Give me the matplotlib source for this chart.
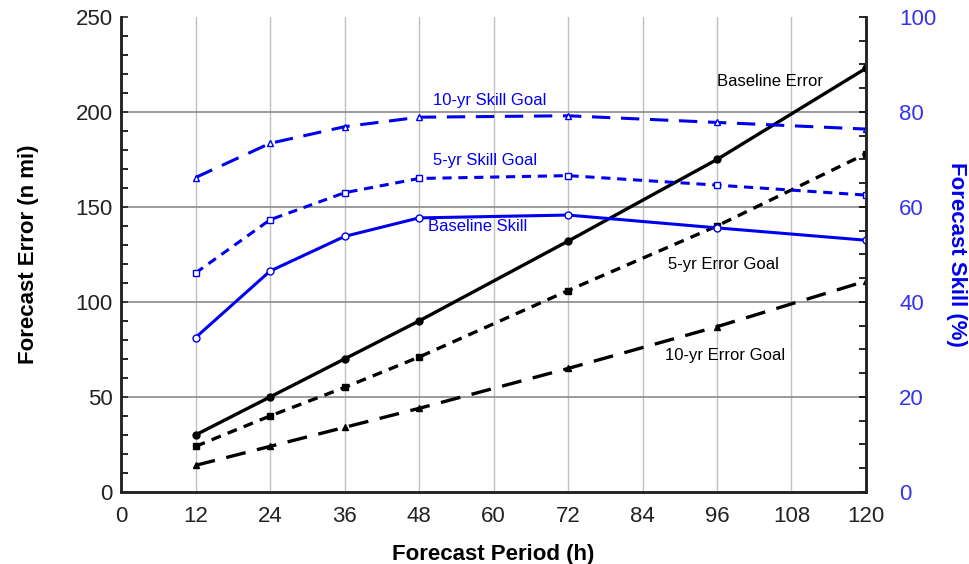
import numpy as np
import matplotlib
matplotlib.use("Agg")
import matplotlib.pyplot as plt
from matplotlib.ticker import MultipleLocator

plt.rcParams["font.family"] = ["Liberation Sans", "DejaVu Sans"]

hours = [12, 24, 36, 48, 72, 96, 120]

# forecast error (n mi), left axis
base_err = [30, 50, 70, 90, 132, 175, 223]
err_5yr = [24, 40, 55, 71, 106, 140, 178]
err_10yr = [14, 24, 34, 44, 65, 87, 111]

# forecast skill (%), right axis
base_skill = [32.5, 46.5, 53.8, 57.7, 58.3, 55.6, 53.0]
skill_5yr = [46.1, 57.3, 63.0, 66.0, 66.6, 64.6, 62.5]
skill_10yr = [66.2, 73.4, 76.9, 78.9, 79.2, 77.8, 76.4]

BLUE = "#0000ee"
TICKBLUE = "#3535e8"
FS = 16

fig = plt.figure(figsize=(9.69, 5.64), dpi=100)
ax = fig.add_axes([0.1249, 0.1277, 0.7688, 0.8422])
ax2 = ax.twinx()

# grid
for x in range(12, 120, 12):
    ax.axvline(x, color="#c0c0c0", lw=1.0, zorder=0)
for y in (50, 100, 150, 200):
    ax.axhline(y, color="#8a8a8a", lw=1.2, zorder=0)

ax.plot(hours, base_err, "-", color="k", lw=2.4, marker="o", ms=5)
ax.plot(hours, err_5yr, color="k", lw=2.4, ls=(0, (3, 2.2)), marker="s", ms=5)
ax.plot(hours, err_10yr, color="k", lw=2.4, ls=(0, (6, 3.5)), marker="^", ms=5)

ax2.plot(hours, base_skill, "-", color=BLUE, lw=2.2, marker="o", ms=5, mfc="white", mew=1)
ax2.plot(hours, skill_5yr, color=BLUE, lw=2.2, ls=(0, (3, 2.2)), marker="s", ms=5, mfc="white", mew=1)
ax2.plot(hours, skill_10yr, color=BLUE, lw=2.2, ls=(0, (6, 3.5)), marker="^", ms=5, mfc="white", mew=1)

ax.set_xlim(0, 120)
ax.set_ylim(0, 250)
ax2.set_ylim(0, 100)
ax.set_xticks(range(0, 121, 12))
ax.yaxis.set_major_locator(MultipleLocator(50))
ax.yaxis.set_minor_locator(MultipleLocator(10))
ax2.yaxis.set_major_locator(MultipleLocator(20))
ax2.yaxis.set_minor_locator(MultipleLocator(5))

ax.tick_params(axis="both", labelsize=FS, colors="#222222", labelcolor="#222222")
ax.tick_params(axis="y", which="both", direction="in", length=5, width=1.2, pad=6)
ax.tick_params(axis="x", direction="in", length=0, pad=10)
ax2.tick_params(axis="y", which="both", direction="in", length=5, width=1.2,
                labelsize=FS, labelcolor=TICKBLUE, color="k", pad=24)

for a in (ax, ax2):
    a.spines["top"].set_visible(False)
    for s in ("left", "right", "bottom"):
        a.spines[s].set_linewidth(1.8)
        a.spines[s].set_color("#222222")

ax.set_xlabel("Forecast Period (h)", fontsize=FS, fontweight="bold", labelpad=12)
ax.set_ylabel("Forecast Error (n mi)", fontsize=FS, fontweight="bold", labelpad=26)
ax2.set_ylabel("Forecast Skill (%)", fontsize=FS, fontweight="bold", color=BLUE,
               rotation=270, labelpad=22)

ax.text(104.5, 216, "Baseline Error", fontsize=12, ha="center", va="center", color="k")
ax.text(97, 119.5, "5-yr Error Goal", fontsize=12, ha="center", va="center", color="k")
ax.text(97.3, 72, "10-yr Error Goal", fontsize=12, ha="center", va="center", color="k")
ax2.text(59.4, 82.5, "10-yr Skill Goal", fontsize=12, ha="center", va="center", color=BLUE)
ax2.text(58.6, 69.7, "5-yr Skill Goal", fontsize=12, ha="center", va="center", color=BLUE)
ax2.text(57.5, 55.8, "Baseline Skill", fontsize=12, ha="center", va="center", color=BLUE)

fig.savefig("out.png", dpi=100)
